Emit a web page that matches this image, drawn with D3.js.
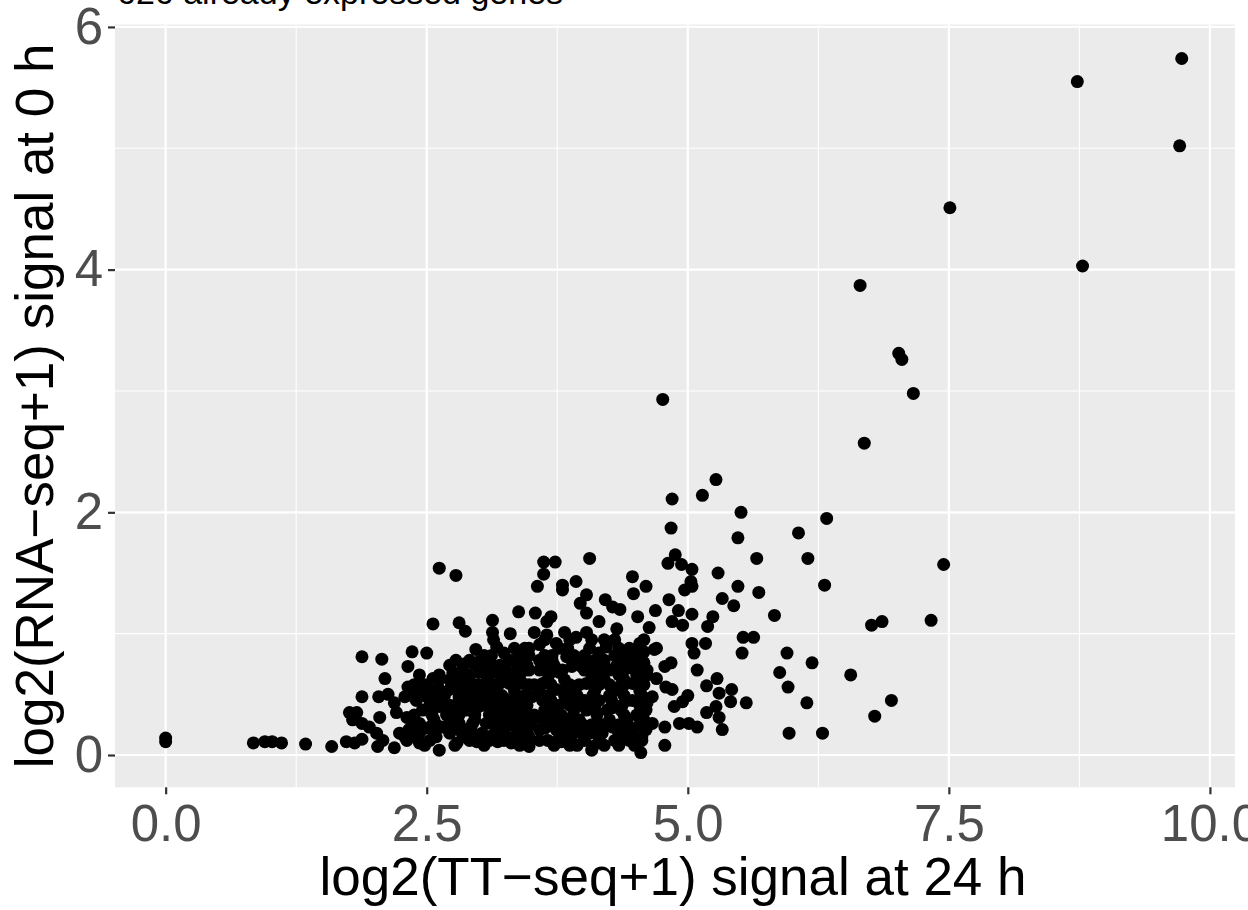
<!DOCTYPE html>
<html>
<head>
<meta charset="utf-8">
<script src="https://cdnjs.cloudflare.com/ajax/libs/d3/7.8.5/d3.min.js"></script>
<style>
  html, body { margin: 0; padding: 0; background: #ffffff; }
  svg { display: block; }
  text { font-family: "Liberation Sans", Arial, Helvetica, sans-serif; }
</style>
</head>
<body>
<svg id="chart" width="1248" height="910"></svg>
<script>
// ---- data: [log2(TT-seq+1) at 24 h, log2(RNA-seq+1) at 0 h] ----
const chartTitle = "626 already expressed genes";
const xAxisTitle = "log2(TT\u2212seq+1) signal at 24 h";
const yAxisTitle = "log2(RNA\u2212seq+1) signal at 0 h";
const xTickValues = [0, 2.5, 5, 7.5, 10];
const yTickValues = [0, 2, 4, 6];
const xDomain = [-0.485, 10.24];
const yDomain = [-0.266, 6.02];

const outlierGenes = [
  [9.73,5.74],[8.73,5.55],[9.71,5.02],[7.51,4.51],[8.78,4.03],[6.65,3.87],[7.02,3.31],[7.05,3.26],
  [7.16,2.98],[6.69,2.57],[4.76,2.93],[5.27,2.27],[5.14,2.14],[4.85,2.11],[5.51,2.00],[6.33,1.95],
  [6.06,1.83],[5.48,1.79],[4.84,1.87],[7.45,1.57],[6.15,1.62],[5.66,1.62],[4.06,1.62],[3.62,1.59],
  [3.73,1.59],[2.62,1.54],[2.78,1.48],[6.31,1.40],[5.48,1.39],[7.33,1.11],[6.86,1.10],[6.76,1.07],
  [6.95,0.45],[6.79,0.32],[6.56,0.66],[6.19,0.76],[6.14,0.43],[5.96,0.56],[5.95,0.84],[5.88,0.68],
  [6.29,0.18],[5.97,0.18],[5.83,1.15],[5.63,0.97],[5.53,0.97],[5.52,0.84],[5.56,0.43]
];

const upperClusterGenes = [
  [5.29,1.50],[5.68,1.34],[4.88,1.65],[4.81,1.58],[4.94,1.57],[5.04,1.53],[5.03,1.43],[5.04,1.39],
  [4.97,1.36],[4.60,1.39],[5.33,1.29],[4.82,1.28],[5.44,1.23],[5.24,1.14],[5.19,1.06],[5.04,1.16],
  [4.91,1.19],[4.69,1.19],[4.85,1.10],[4.95,1.07],[4.63,1.05],[4.58,0.95],[4.70,0.88],[4.56,0.78],
  [5.04,0.92],[5.06,0.84],[5.09,0.70],[5.17,0.92],[5.28,0.63],[5.18,0.57],[5.41,0.44],[5.42,0.54],
  [5.30,0.51],[5.27,0.40],[5.18,0.35],[5.30,0.31],[5.33,0.21],[5.01,0.26],[5.09,0.23],[4.92,0.26],
  [4.78,0.08],[5.00,0.49],[4.95,0.44],[4.87,0.40],[4.78,0.23],[4.85,0.54],[4.79,0.56],[4.66,0.48],
  [4.70,0.63],[4.56,0.62],[4.78,0.73],[4.84,0.76],[4.60,0.21],[4.56,0.12],[4.55,0.02],[4.52,1.14],
  [4.47,1.47],[4.48,1.33],[4.35,1.20],[4.28,1.22],[4.21,1.28],[4.15,1.10],[4.03,1.17],[3.97,1.25],
  [4.03,1.32],[3.93,1.43],[3.80,1.40],[3.56,1.39],[3.62,1.49],[3.54,1.17],[3.38,1.18],[3.53,1.01],
  [3.30,1.00],[3.13,1.11],[3.13,1.01],[3.14,0.95],[3.17,0.89],[2.97,0.87],[3.24,0.84],[2.87,1.02],
  [2.81,1.09],[2.56,1.08],[3.65,1.10],[3.69,1.14],[3.80,1.36],[4.32,1.04]
];

const coreClusterGenes = [
  [4.54,0.92],[4.58,0.85],[4.68,0.87],[4.51,0.84],[4.58,0.76],[4.44,0.72],[4.34,0.78],[4.25,0.70],
  [4.20,0.73],[4.15,0.84],[4.22,0.89],[4.08,0.95],[4.03,1.01],[3.93,0.97],[3.82,1.01],[3.74,0.92],
  [3.65,0.99],[3.58,0.91],[3.48,0.88],[3.39,0.82],[3.29,0.78],[3.20,0.74],[3.00,0.77],[2.86,0.75],
  [2.78,0.78],[2.75,0.68],[2.79,0.62],[2.89,0.66],[3.00,0.68],[2.56,0.63],[2.36,0.85],[2.50,0.84],
  [2.32,0.73],[2.32,0.56],[2.29,0.48],[2.40,0.45],[2.31,0.31],[2.33,0.21],[2.31,0.12],[2.43,0.10],
  [2.62,0.04],[2.79,0.10],[2.98,0.11],[3.18,0.11],[3.31,0.10],[3.48,0.07],[3.66,0.12],[3.79,0.11],
  [3.94,0.08],[4.09,0.07],[4.08,0.04],[4.28,0.23],[4.41,0.21],[4.56,0.15],[4.66,0.26],[4.61,0.43],
  [4.47,0.59],[4.47,0.45],[4.34,0.56],[4.28,0.39],[4.15,0.45],[4.03,0.37],[3.98,0.26],[3.89,0.31],
  [3.80,0.27],[3.70,0.37],[3.74,0.54],[3.77,0.68],[3.89,0.73],[3.84,0.81],[3.98,0.73],[4.03,0.59],
  [3.87,0.58],[3.61,0.59],[3.58,0.70],[3.48,0.70],[3.42,0.59],[3.29,0.59],[3.20,0.59],[3.07,0.54],
  [2.98,0.48],[2.91,0.54],[2.81,0.48],[2.72,0.54],[2.62,0.54],[2.50,0.48],[2.46,0.37],[2.62,0.40],
  [2.75,0.37],[2.88,0.37],[3.00,0.40],[3.13,0.43],[3.26,0.45],[3.39,0.45],[3.51,0.48],[3.61,0.45],
  [3.58,0.31],[3.46,0.31],[3.32,0.31],[3.20,0.29],[3.07,0.26],[2.94,0.26],[2.81,0.26],[2.65,0.23],
  [2.53,0.23],[2.43,0.26],[2.72,0.18],[3.03,0.18],[3.36,0.21],[3.58,0.21],[3.74,0.21]
];

const coreFillGenes = [
  [2.53,0.12],[2.91,0.12],[3.10,0.12],[3.24,0.12],[3.39,0.12],[3.58,0.12],[3.87,0.12],[4.01,0.12],[4.15,0.12],[4.30,0.12],[4.44,0.12],
  [2.43,0.18],[2.57,0.18],[2.84,0.18],[2.94,0.18],[3.15,0.18],[3.24,0.18],[3.46,0.18],[3.82,0.18],[3.91,0.18],[4.06,0.18],[4.18,0.18],[4.34,0.18],[4.47,0.18],
  [2.59,0.25],[2.72,0.25],[3.15,0.25],[3.29,0.25],[3.39,0.25],[3.50,0.25],[3.67,0.25],[3.89,0.25],[4.08,0.25],[4.18,0.25],[4.34,0.25],[4.54,0.25],
  [2.38,0.33],[2.55,0.33],[2.69,0.33],[2.81,0.33],[2.96,0.33],[3.10,0.33],[3.20,0.33],[3.39,0.33],[3.53,0.33],[3.66,0.33],[3.79,0.33],[4.13,0.33],[4.39,0.33],[4.51,0.33],
  [2.53,0.41],[2.72,0.41],[2.84,0.41],[2.93,0.41],[3.05,0.41],[3.20,0.41],[3.34,0.41],[3.46,0.41],[3.77,0.41],[3.87,0.41],[3.96,0.41],[4.11,0.41],[4.37,0.41],[4.54,0.41],
  [2.36,0.49],[2.57,0.49],[2.67,0.49],[2.88,0.49],[3.15,0.49],[3.22,0.49],[3.34,0.49],[3.44,0.49],[3.67,0.49],[3.82,0.49],[3.94,0.49],[4.09,0.49],[4.25,0.49],[4.39,0.49],[4.56,0.49],
  [2.38,0.58],[2.48,0.58],[2.81,0.58],[2.99,0.58],[3.13,0.58],[3.48,0.58],[3.53,0.58],[3.69,0.58],[3.96,0.58],[4.15,0.58],[4.25,0.58],[4.39,0.58],[4.58,0.58],
  [2.43,0.66],[2.62,0.66],[3.10,0.66],[3.20,0.66],[3.31,0.66],[3.39,0.66],[3.67,0.66],[4.08,0.66],[4.15,0.66],[4.34,0.66],[4.51,0.66],[4.61,0.66],
  [2.72,0.74],[2.96,0.74],[3.10,0.74],[3.37,0.74],[3.46,0.74],[3.66,0.74],[3.72,0.74],[4.06,0.74],[4.32,0.74],[4.52,0.74],
  [3.05,0.82],[3.12,0.82],[3.48,0.82],[3.63,0.82],[3.70,0.82],[3.91,0.82],[4.01,0.82],[4.30,0.82],[4.42,0.82]
];

const coreFillGenes2 = [
  [2.48,0.08],[2.77,0.08],[3.05,0.08],[3.39,0.08],[3.72,0.08],[3.87,0.08],[4.20,0.08],[4.34,0.08],[4.49,0.08],
  [2.38,0.15],[2.59,0.15],[2.86,0.15],[3.10,0.15],[3.34,0.15],[3.48,0.15],[3.77,0.15],[4.01,0.15],[4.15,0.15],[4.39,0.15],
  [2.48,0.22],[2.77,0.22],[2.91,0.22],[3.22,0.22],[3.46,0.22],[3.63,0.22],[3.82,0.22],[4.01,0.22],[4.13,0.22],[4.46,0.22],
  [2.35,0.29],[2.57,0.29],[2.74,0.29],[2.96,0.29],[3.31,0.29],[3.48,0.29],[3.69,0.29],[3.96,0.29],[4.25,0.29],[4.42,0.29],[4.58,0.29],
  [2.55,0.37],[2.69,0.37],[3.15,0.37],[3.29,0.37],[3.44,0.37],[3.63,0.37],[3.91,0.37],[4.11,0.37],[4.23,0.37],[4.36,0.37],[4.60,0.37],
  [2.62,0.45],[2.81,0.45],[2.96,0.45],[3.05,0.45],[3.46,0.45],[3.69,0.45],[3.85,0.45],[4.01,0.45],[4.27,0.45],[4.42,0.45],
  [2.43,0.53],[2.55,0.53],[2.81,0.53],[3.00,0.53],[3.15,0.53],[3.34,0.53],[3.58,0.53],[3.82,0.53],[3.91,0.53],[4.11,0.53],[4.30,0.53],[4.54,0.53],
  [2.62,0.62],[2.72,0.62],[2.91,0.62],[3.08,0.62],[3.24,0.62],[3.39,0.62],[3.66,0.62],[3.82,0.62],[4.11,0.62],[4.20,0.62],[4.39,0.62],[4.54,0.62],
  [2.84,0.70],[3.02,0.70],[3.15,0.70],[3.26,0.70],[3.44,0.70],[3.66,0.70],[3.80,0.70],[4.01,0.70],[4.13,0.70],[4.39,0.70],[4.61,0.70],
  [2.91,0.78],[3.10,0.78],[3.34,0.78],[3.58,0.78],[3.70,0.78],[3.96,0.78],[4.11,0.78],[4.20,0.78],[4.44,0.78],
  [3.34,0.88],[3.44,0.88],[3.77,0.88],[3.85,0.88],[4.06,0.88],[4.34,0.88],[4.44,0.88],
  [3.63,0.95],[3.87,0.95],[4.20,0.95],[4.30,0.95]
];

const lowerLeftGenes = [
  [1.88,0.81],[2.07,0.79],[2.10,0.63],[1.88,0.48],[2.04,0.48],[2.13,0.50],[2.19,0.43],[1.76,0.35],
  [1.83,0.35],[1.79,0.29],[1.88,0.26],[1.95,0.23],[2.05,0.31],[2.02,0.18],[2.08,0.12],[2.03,0.07],
  [2.19,0.06],[2.24,0.18],[2.21,0.35],[2.29,0.15]
];

const leftTailGenes = [
  [0.00,0.14],[0.00,0.11],[0.84,0.10],[0.95,0.11],[1.02,0.11],[1.11,0.10],[1.34,0.09],[1.59,0.07],
  [1.73,0.11],[1.81,0.10],[1.88,0.13]
];

const genes = [].concat(outlierGenes, upperClusterGenes, coreClusterGenes, coreFillGenes, coreFillGenes2, lowerLeftGenes, leftTailGenes);

// ---- layout ----
const W = 1248, H = 910;
const panel = { left: 115, right: 1235, top: 24.5, bottom: 787.3 };
const svg = d3.select("#chart");
svg.append("rect").attr("width", W).attr("height", H).attr("fill", "#ffffff");

const x = d3.scaleLinear().domain(xDomain).range([panel.left, panel.right]);
const y = d3.scaleLinear().domain(yDomain).range([panel.bottom, panel.top]);

// panel background
svg.append("rect")
  .attr("x", panel.left).attr("y", panel.top)
  .attr("width", panel.right - panel.left).attr("height", panel.bottom - panel.top)
  .attr("fill", "#EBEBEB");

const grid = svg.append("g");
const xMinor = d3.range(xTickValues.length - 1).map(i => (xTickValues[i] + xTickValues[i + 1]) / 2);
const yMinor = d3.range(yTickValues.length - 1).map(i => (yTickValues[i] + yTickValues[i + 1]) / 2);
grid.selectAll(".xminor").data(xMinor).join("line")
  .attr("x1", d => x(d)).attr("x2", d => x(d)).attr("y1", panel.top).attr("y2", panel.bottom)
  .attr("stroke", "#ffffff").attr("stroke-width", 1.1);
grid.selectAll(".yminor").data(yMinor).join("line")
  .attr("y1", d => y(d)).attr("y2", d => y(d)).attr("x1", panel.left).attr("x2", panel.right)
  .attr("stroke", "#ffffff").attr("stroke-width", 1.1);
grid.selectAll(".xmajor").data(xTickValues).join("line")
  .attr("x1", d => x(d)).attr("x2", d => x(d)).attr("y1", panel.top).attr("y2", panel.bottom)
  .attr("stroke", "#ffffff").attr("stroke-width", 2.2);
grid.selectAll(".ymajor").data(yTickValues).join("line")
  .attr("y1", d => y(d)).attr("y2", d => y(d)).attr("x1", panel.left).attr("x2", panel.right)
  .attr("stroke", "#ffffff").attr("stroke-width", 2.2);

// points
svg.append("g").selectAll("circle").data(genes).join("circle")
  .attr("cx", d => x(d[0])).attr("cy", d => y(d[1])).attr("r", 6.5)
  .attr("fill", "#000000");

// axes
const xAxis = d3.axisBottom(x).tickValues(xTickValues).tickFormat(d3.format(".1f"))
  .tickSize(7).tickPadding(10).tickSizeOuter(0);
const gx = svg.append("g").attr("transform", `translate(0,${panel.bottom})`).call(xAxis);
gx.select(".domain").remove();
gx.selectAll(".tick line").attr("stroke", "#333333").attr("stroke-width", 2.2);
gx.selectAll(".tick text").attr("fill", "#4D4D4D").style("font-size", "51px")
  .style("font-family", "'Liberation Sans', Arial, sans-serif");

const yAxis = d3.axisLeft(y).tickValues(yTickValues).tickFormat(d3.format("d"))
  .tickSize(7).tickPadding(5).tickSizeOuter(0);
const gy = svg.append("g").attr("transform", `translate(${panel.left},0)`).call(yAxis);
gy.select(".domain").remove();
gy.selectAll(".tick line").attr("stroke", "#333333").attr("stroke-width", 2.2);
gy.selectAll(".tick text").attr("fill", "#4D4D4D").style("font-size", "51px")
  .style("font-family", "'Liberation Sans', Arial, sans-serif");

// titles
svg.append("text")
  .attr("x", (panel.left + panel.right) / 2 - 2).attr("y", 895)
  .attr("text-anchor", "middle").attr("fill", "#000000")
  .style("font-size", "53px").text(xAxisTitle);

svg.append("text")
  .attr("transform", `translate(53,${(panel.top + panel.bottom) / 2}) rotate(-90)`)
  .attr("text-anchor", "middle").attr("fill", "#000000")
  .style("font-size", "53px").text(yAxisTitle);

svg.append("text")
  .attr("x", panel.left + 2).attr("y", 3.5)
  .attr("fill", "#000000").style("font-size", "34px").text(chartTitle);
</script>
</body>
</html>
